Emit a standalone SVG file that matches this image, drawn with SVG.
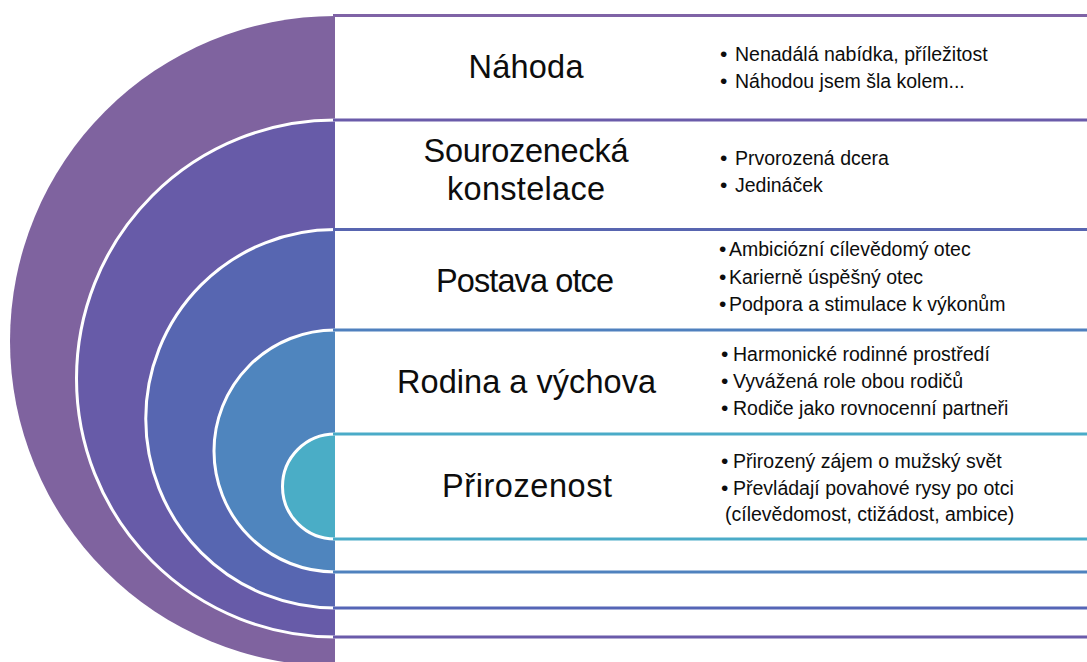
<svg xmlns="http://www.w3.org/2000/svg" width="1087" height="662" viewBox="0 0 1087 662">
<style>
.title{font-family:"Liberation Sans",Arial,sans-serif;font-size:32.5px;fill:#0d0d0d;text-anchor:middle}
.item{font-family:"Liberation Sans",Arial,sans-serif;font-size:19.5px;fill:#0d0d0d}
.b{font-size:21px}
.sep{fill:none;stroke:#ffffff;stroke-width:3}
.band{stroke-width:3;fill:none}
</style>
<rect width="1087" height="662" fill="#ffffff"/>
<g id="node-nahoda">
<path d="M335,16 A325,325 0 0 0 335,666 Z" fill="#7F639F"/>
<line class="band" x1="333" y1="15.5" x2="1087" y2="15.5" stroke="#7F63A6"/>
<text class="title" x="526" y="78" textLength="115">Náhoda</text>
<text class="item" y="61"><tspan class="b" x="720">•</tspan><tspan x="735">Nenadálá nabídka, příležitost</tspan></text>
<text class="item" y="88"><tspan class="b" x="720">•</tspan><tspan x="735">Náhodou jsem šla kolem...</tspan></text>
</g>
<g id="node-sourozenecka">
<path d="M335,120 A258.5,258.5 0 0 0 335,637 Z" fill="#675BA8"/>
<path class="sep" d="M335,120 A258.5,258.5 0 0 0 335,637"/>
<line class="band" x1="333" y1="120" x2="1087" y2="120" stroke="#6A5BAA"/>
<line class="band" x1="333" y1="637" x2="1087" y2="637" stroke="#6A5BAA"/>
<text class="title" x="526" y="162" textLength="205">Sourozenecká</text>
<text class="title" x="526" y="200" textLength="158">konstelace</text>
<text class="item" y="165"><tspan class="b" x="720">•</tspan><tspan x="735">Prvorozená dcera</tspan></text>
<text class="item" y="192"><tspan class="b" x="720">•</tspan><tspan x="735">Jedináček</tspan></text>
</g>
<g id="node-postava">
<path d="M335,229.5 A189.25,189.25 0 0 0 335,608 Z" fill="#5766B1"/>
<path class="sep" d="M335,229.5 A189.25,189.25 0 0 0 335,608"/>
<line class="band" x1="333" y1="229.5" x2="1087" y2="229.5" stroke="#5865B0"/>
<line class="band" x1="333" y1="608" x2="1087" y2="608" stroke="#5565B6"/>
<text class="title" x="525" y="292" textLength="178">Postava otce</text>
<text class="item" y="256"><tspan class="b" x="719">•</tspan><tspan x="729">Ambiciózní cílevědomý otec</tspan></text>
<text class="item" y="284"><tspan class="b" x="719">•</tspan><tspan x="729">Karierně úspěšný otec</tspan></text>
<text class="item" y="311"><tspan class="b" x="719">•</tspan><tspan x="729">Podpora a stimulace k výkonům</tspan></text>
</g>
<g id="node-rodina">
<path d="M335,330 A121,121 0 0 0 335,572 Z" fill="#4F85BE"/>
<path class="sep" d="M335,330 A121,121 0 0 0 335,572"/>
<line class="band" x1="333" y1="330" x2="1087" y2="330" stroke="#4F80BE"/>
<line class="band" x1="333" y1="572" x2="1087" y2="572" stroke="#4F82BE"/>
<text class="title" x="526.5" y="393" textLength="259">Rodina a výchova</text>
<text class="item" y="361"><tspan class="b" x="721">•</tspan><tspan x="733">Harmonické rodinné prostředí</tspan></text>
<text class="item" y="388"><tspan class="b" x="721">•</tspan><tspan x="733">Vyvážená role obou rodičů</tspan></text>
<text class="item" y="415"><tspan class="b" x="721">•</tspan><tspan x="733">Rodiče jako rovnocenní partneři</tspan></text>
</g>
<g id="node-prirozenost">
<path d="M335,434 A52.5,52.5 0 0 0 335,539 Z" fill="#4AADC6"/>
<path class="sep" d="M335,434 A52.5,52.5 0 0 0 335,539"/>
<line class="band" x1="333" y1="434" x2="1087" y2="434" stroke="#4AABC8"/>
<line class="band" x1="333" y1="539" x2="1087" y2="539" stroke="#4AABC8"/>
<text class="title" x="527" y="497" textLength="170">Přirozenost</text>
<text class="item" y="468"><tspan class="b" x="721">•</tspan><tspan x="733">Přirozený zájem o mužský svět</tspan></text>
<text class="item" y="495"><tspan class="b" x="721">•</tspan><tspan x="733">Převládají povahové rysy po otci</tspan></text>
<text class="item" y="521" x="725">(cílevědomost, ctižádost, ambice)</text>
</g>
<g id="connectors"/>
</svg>
